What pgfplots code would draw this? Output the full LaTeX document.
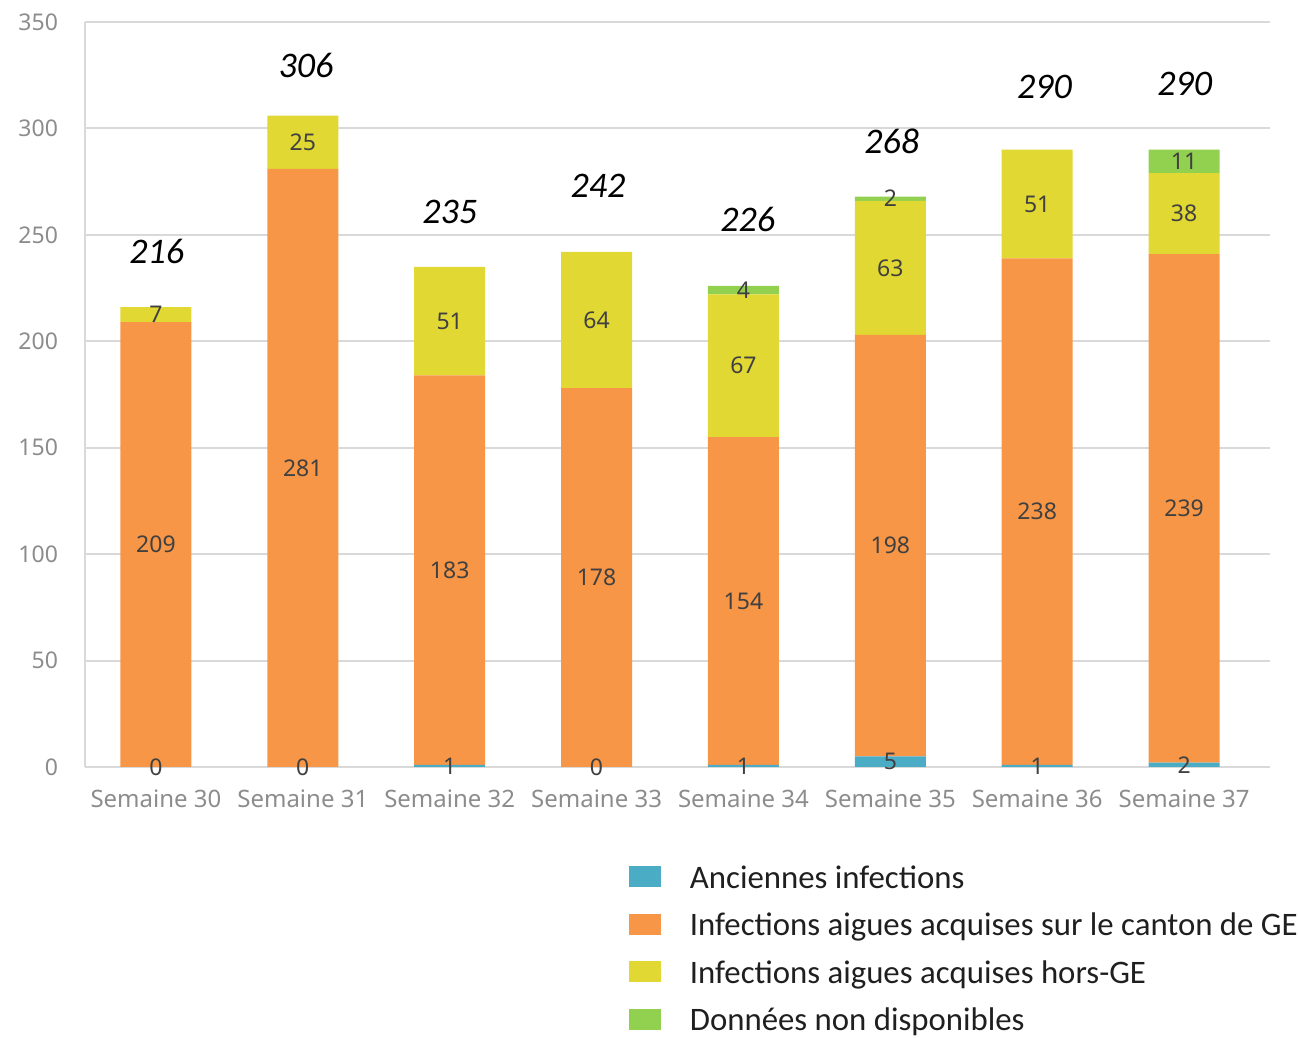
\documentclass[border=0pt]{standalone}
\usepackage{fontspec}
\setmainfont{Carlito}
\newfontfamily\notosans{Noto Sans}
\usepackage{pgfplots}
\usepackage{pgfplotstable}
\pgfplotsset{compat=1.18}
\definecolor{cAnc}{HTML}{4BACC6}
\definecolor{cGE}{HTML}{F79646}
\definecolor{cHors}{HTML}{E1D834}
\definecolor{cND}{HTML}{92D050}
\definecolor{gridc}{HTML}{D9D9D9}
\definecolor{tickc}{HTML}{8C8C8C}
\definecolor{labc}{HTML}{404040}

\pgfplotstableread{
x anc ge hors nd
0 0 209 7 0
1 0 281 25 0
2 1 183 51 0
3 0 178 64 0
4 1 154 67 4
5 5 198 63 2
6 1 238 51 0
7 2 239 38 11
}\data
% weeks where the "non disponibles" segment is labelled
\pgfplotstableread{
x anc ge hors nd
4 1 154 67 4
5 5 198 63 2
7 2 239 38 11
}\ndrows

\pgfplotsset{
  seg/.style={
    fill=#1, draw=none,
    legend image code/.code={\fill[#1] (0pt,-2pt) rectangle (16pt,8.5pt);},
  },
  lab/.style={
    draw=none, mark=none, point meta=\thisrow{#1},
    nodes near coords,
    every node near coord/.append style={anchor=center,
      font=\notosans\fontsize{11.5}{13}\selectfont, text=labc, inner sep=0pt},
  },
}

\begin{document}
\begin{tikzpicture}
\begin{axis}[
  name=ax,
  width=592.5pt, height=372.5pt, scale only axis,
  ybar stacked, bar width=35.5pt,
  xmin=-0.483, xmax=7.585, ymin=0, ymax=350,
  xtick={0,...,7},
  xticklabels={Semaine 30,Semaine 31,Semaine 32,Semaine 33,Semaine 34,Semaine 35,Semaine 36,Semaine 37},
  ytick={0,50,...,350},
  ymajorgrids, grid style={gridc, line width=1pt},
  axis x line*=bottom, axis y line*=left,
  axis line style={gridc, line width=1pt, -},
  major tick length=0pt, tick style={draw=none},
  /pgf/number format/assume math mode=true,
  ticklabel style={text=tickc},
  xticklabel style={font=\notosans\fontsize{12}{14}\selectfont, yshift=-8pt},
  yticklabel style={font=\notosans\fontsize{11.5}{13}\selectfont, xshift=-10pt},
  legend style={at={(0.459,-0.1335)}, anchor=north west, draw=none, fill=none,
    inner sep=0pt, outer sep=0pt, row sep=10.2pt,
    font=\fontsize{16.4}{19}\selectfont, text=black!88,
    nodes={inner sep=0pt, text height=0.75em, text depth=0.25em},
    /tikz/column 1/.style={column sep=14.5pt}},
  legend cell align=left,
]
\addplot[seg=cAnc] table[x=x,y=anc]{\data};
\addplot[seg=cGE] table[x=x,y=ge]{\data};
\addplot[seg=cHors] table[x=x,y=hors]{\data};
\addplot[seg=cND] table[x=x,y=nd]{\data};
\legend{Anciennes infections, Infections aigues acquises sur le canton de GE, Infections aigues acquises hors-GE, Données non disponibles}
\end{axis}

\begin{axis}[
  at={(ax.south west)}, anchor=south west,
  width=592.5pt, height=372.5pt, scale only axis,
  xmin=-0.483, xmax=7.585, ymin=0, ymax=350,
  hide axis, clip=false,
  /pgf/number format/assume math mode=true,
]
\addplot[lab=anc] table[x=x, y expr=0.5*\thisrow{anc}]{\data};
\addplot[lab=ge] table[x=x, y expr=\thisrow{anc}+0.5*\thisrow{ge}]{\data};
\addplot[lab=hors] table[x=x, y expr=\thisrow{anc}+\thisrow{ge}+0.5*\thisrow{hors}]{\data};
\addplot[lab=nd] table[x=x, y expr=\thisrow{anc}+\thisrow{ge}+\thisrow{hors}+0.5*\thisrow{nd}]{\ndrows};

\begin{scope}[every node/.style={font=\itshape\fontsize{18}{20}\selectfont, text=black, inner sep=0pt}]
\node at (axis cs:0.005,242.2) {216};
\node at (axis cs:1.021,329.7) {306};
\node at (axis cs:2.001,260.6) {235};
\node at (axis cs:3.009,272.8) {242};
\node at (axis cs:4.03,257.3) {226};
\node at (axis cs:5.01,294) {268};
\node at (axis cs:6.05,319.4) {290};
\node at (axis cs:7.005,320.8) {290};
\end{scope}
\end{axis}
\pgfresetboundingbox
\path ([shift={(-42.5pt,-135.5pt)}]ax.south west) rectangle ([shift={(14.5pt,11pt)}]ax.north east);
\end{tikzpicture}
\end{document}
